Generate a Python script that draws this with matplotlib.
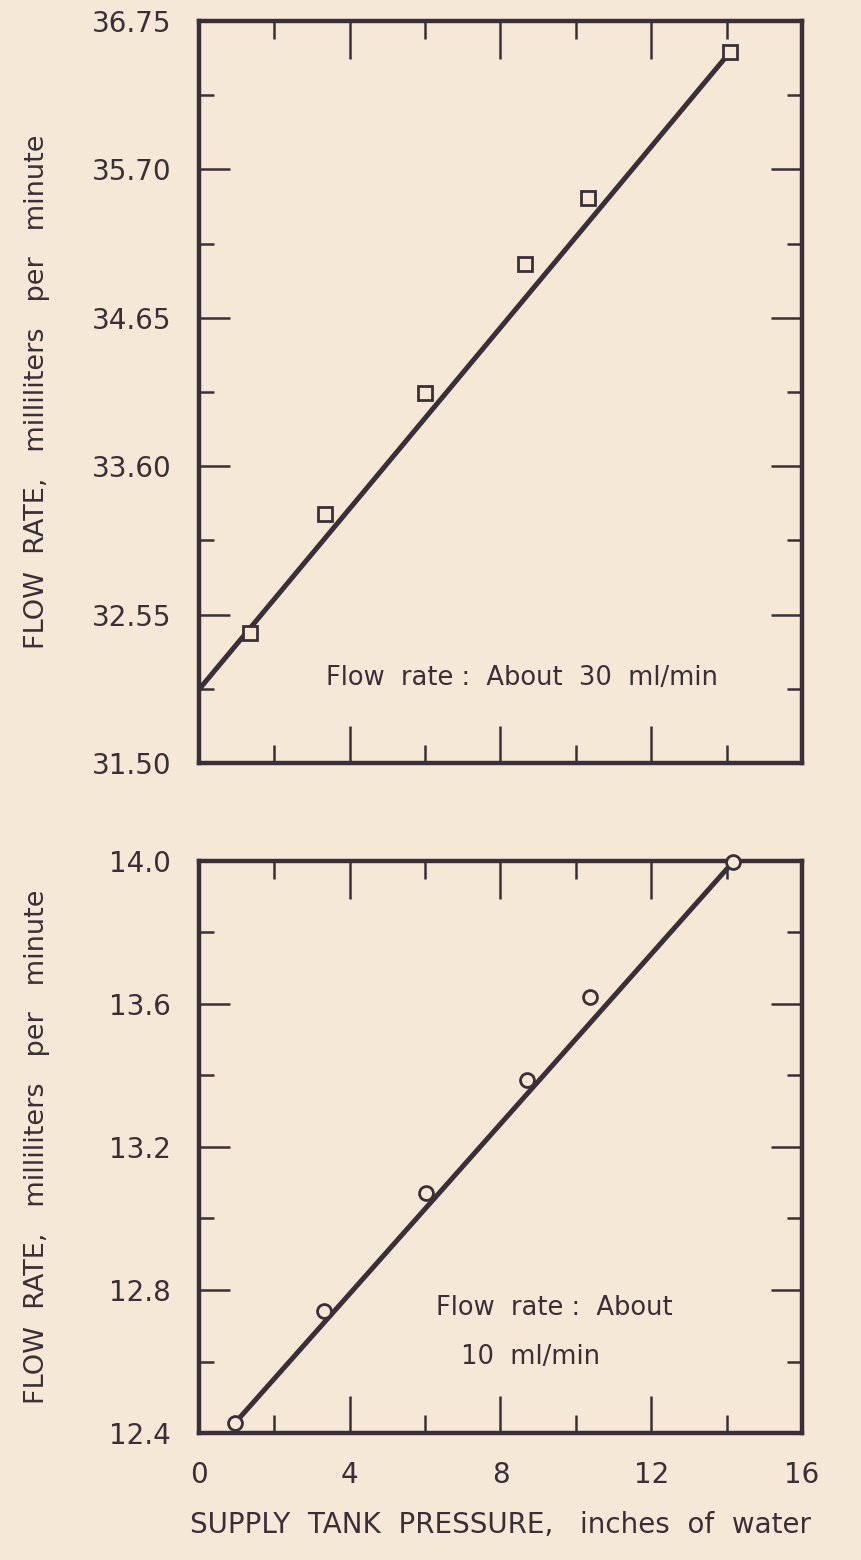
import numpy as np
import matplotlib.pyplot as plt
from matplotlib.ticker import MultipleLocator, FixedLocator

# top panel: about 30 ml/min
top_x = [1.35, 3.34, 6.00, 8.65, 10.32, 14.09]
top_y = [32.42, 33.26, 34.12, 35.03, 35.50, 36.53]
top_fit_x = [0.0, 14.09]
top_fit_y = [32.02, 36.53]
top_yticks = [31.50, 32.55, 33.60, 34.65, 35.70, 36.75]

# bottom panel: about 10 ml/min
bot_x = [0.955, 3.32, 6.02, 8.70, 10.37, 14.17]
bot_y = [12.428, 12.741, 13.071, 13.387, 13.62, 13.997]
bot_fit_x = [0.955, 14.17]
bot_fit_y = [12.428, 13.997]
bot_yticks = [12.4, 12.8, 13.2, 13.6, 14.0]

xticks = [0, 4, 8, 12, 16]

BG = "#f6e8d6"
INK = "#3a2f38"
FONT = "DejaVu Sans"

plt.rcParams["font.family"] = FONT
plt.rcParams["text.color"] = INK

fig = plt.figure(figsize=(8.61, 15.60), dpi=100, facecolor=BG)
ax1 = fig.add_axes([0.2311, 0.5109, 0.7003, 0.4756], facecolor=BG)
ax2 = fig.add_axes([0.2311, 0.0814, 0.7003, 0.3667], facecolor=BG)


def style(ax, yticks, yminor, ylabels):
    ax.set_xlim(0, 16)
    ax.set_ylim(yticks[0], yticks[-1])
    ax.xaxis.set_major_locator(FixedLocator(xticks))
    ax.xaxis.set_minor_locator(MultipleLocator(2))
    ax.yaxis.set_major_locator(FixedLocator(yticks))
    ax.yaxis.set_minor_locator(MultipleLocator(yminor))
    for s in ax.spines.values():
        s.set_linewidth(3.2)
        s.set_color(INK)
    ax.tick_params(axis="both", which="both", direction="in", color=INK,
                   top=True, right=True, labelcolor=INK, labelsize=20)
    ax.tick_params(axis="x", which="major", length=27, width=1.8, pad=20)
    ax.tick_params(axis="x", which="minor", length=13, width=1.8)
    ax.tick_params(axis="y", which="major", length=22, width=1.8, pad=20)
    ax.tick_params(axis="y", which="minor", length=11, width=1.8)
    ax.set_yticklabels(ylabels)
    ax.set_ylabel("FLOW  RATE,   milliliters   per   minute", fontsize=19.5,
                  color=INK)
    ax.yaxis.set_label_coords(-0.247, 0.5)


style(ax1, top_yticks, 0.525, [f"{v:.2f}" for v in top_yticks])
ax1.tick_params(axis="x", labelbottom=False)
ax1.plot(top_fit_x, top_fit_y, color=INK, lw=3.6, solid_capstyle="butt", zorder=2)
ax1.plot(top_x, top_y, ls="none", marker="s", ms=10, mfc=BG, mec=INK, mew=2,
         clip_on=False, zorder=3)
ax1.text(8.57, 32.10, "Flow  rate :  About  30  ml/min", fontsize=18.5,
         ha="center", va="center", color=INK)

style(ax2, bot_yticks, 0.2, [f"{v:.1f}" for v in bot_yticks])
ax2.set_xticklabels([str(v) for v in xticks])
ax2.plot(bot_fit_x, bot_fit_y, color=INK, lw=3.6, solid_capstyle="butt", zorder=2)
ax2.plot(bot_x, bot_y, ls="none", marker="o", ms=10, mfc=BG, mec=INK, mew=2,
         clip_on=False, zorder=3)
ax2.text(9.42, 12.75, "Flow  rate :  About", fontsize=18.5,
         ha="center", va="center", color=INK)
ax2.text(8.81, 12.613, "10  ml/min", fontsize=18.5, ha="center", va="center",
         color=INK)
ax2.set_xlabel("SUPPLY  TANK  PRESSURE,   inches  of  water", fontsize=20,
               color=INK, labelpad=16)

fig.savefig("out.png", dpi=100, facecolor=BG)
